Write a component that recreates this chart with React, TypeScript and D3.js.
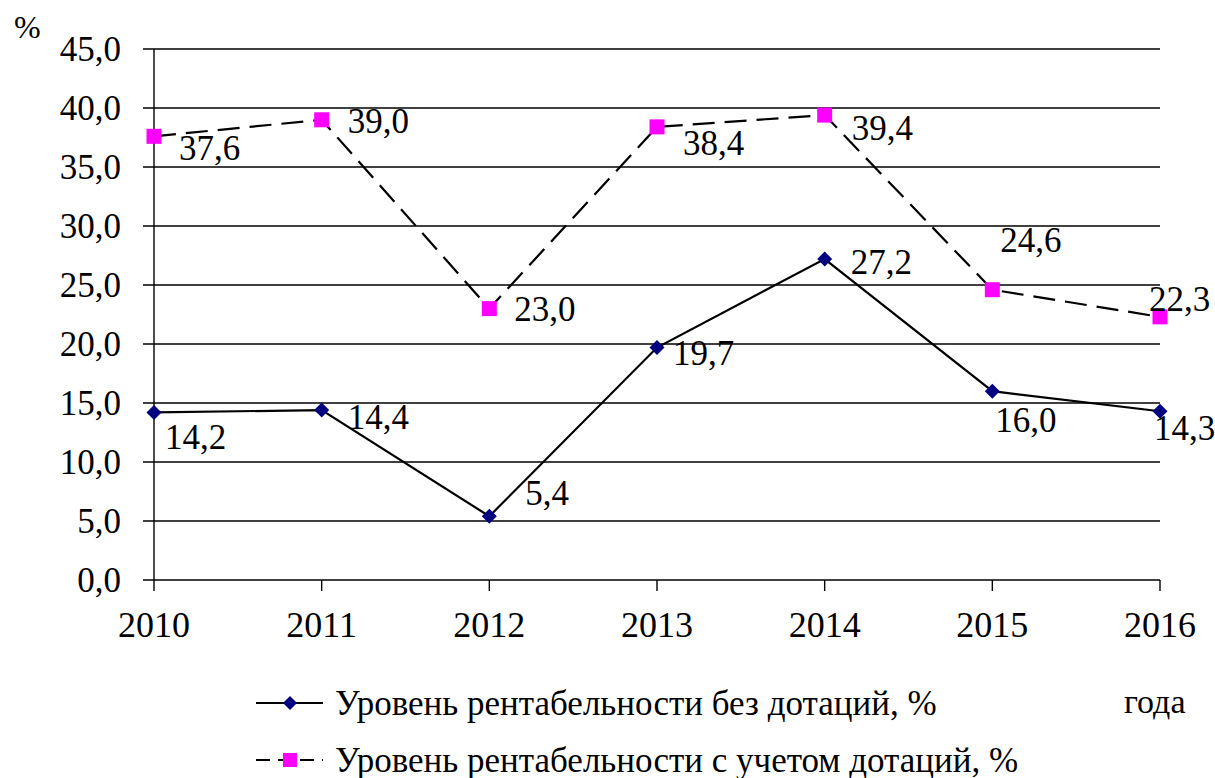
import React, { useEffect, useRef } from "react";
import * as d3 from "d3";

const years = ["2010", "2011", "2012", "2013", "2014", "2015", "2016"];
const withoutSubsidies = [14.2, 14.4, 5.4, 19.7, 27.2, 16.0, 14.3];
const withSubsidies = [37.6, 39.0, 23.0, 38.4, 39.4, 24.6, 22.3];
const yTicks = [0, 5, 10, 15, 20, 25, 30, 35, 40, 45];
const seriesNames = [
  "Уровень рентабельности без дотаций, %",
  "Уровень рентабельности с учетом дотаций, %",
];
// label offsets (dx from point, dy baseline from point)
const labelOffsets1 = [[11, 37], [26, 19], [36, -11], [16, 17], [26, 15], [3, 41], [-6, 29]];
const labelOffsets2 = [[25, 24], [26, 13], [25, 12], [26, 28], [27, 25], [8, -38], [-11, -6]];

const W = 1215, H = 778;
const left = 154, right = 1160, top = 49, bottom = 580;
const FAMILY = ["Liberation", "Serif"].join(" ");
const FONT = `"${FAMILY}", "Tinos", "Times New Roman"`;

function T(p: any) {
  return <text fill="#000" className="serifText" style={{ fontFamily: FONT }} {...p} />;
}

export default function App() {
  const ref = useRef<SVGSVGElement>(null);
  useEffect(() => {
    if (!ref.current) return;
    d3.select(ref.current)
      .selectAll<SVGTextElement, unknown>("text")
      .each(function () {
        this.style.setProperty("font-family", FONT, "important");
      });
  }, []);

  const x = d3.scalePoint<string>().domain(years).range([left, right]);
  const y = d3.scaleLinear().domain([0, 45]).range([bottom, top]);
  const fmt = (v: number) => v.toFixed(1).replace(".", ",");
  const line = d3.line<number>().x((_, i) => x(years[i])!).y((v) => y(v));

  return (
    <svg ref={ref} width={W} height={H} style={{ position: "absolute", left: 0, top: 0, background: "#fff" }}>
      <style>{`.serifText { font-family: ${FONT} !important; }`}</style>
      <rect width={W} height={H} fill="#fff" />
      {yTicks.map((t) => (
        <g key={t}>
          <line x1={143} x2={right} y1={y(t)} y2={y(t)} stroke="#000" strokeWidth={1.4} />
          <T x={121} y={y(t) + 12} textAnchor="end" fontSize={35}>{fmt(t)}</T>
        </g>
      ))}
      <line x1={left} x2={left} y1={top} y2={bottom} stroke="#000" strokeWidth={1.4} />
      {years.map((yr) => (
        <g key={yr}>
          <line x1={x(yr)} x2={x(yr)} y1={bottom} y2={591} stroke="#000" strokeWidth={1.4} />
          <T x={x(yr)} y={637} textAnchor="middle" fontSize={36}>{yr}</T>
        </g>
      ))}
      <T x={14} y={38} fontSize={32}>%</T>
      <path d={line(withoutSubsidies) || ""} fill="none" stroke="#000" strokeWidth={2.2} />
      <path d={line(withSubsidies) || ""} fill="none" stroke="#000" strokeWidth={2.2} strokeDasharray="22,10" />
      {withoutSubsidies.map((v, i) => {
        const cx = x(years[i])!, cy = y(v);
        return (
          <g key={"a" + i}>
            <path d={`M${cx},${cy - 7.5}L${cx + 7.5},${cy}L${cx},${cy + 7.5}L${cx - 7.5},${cy}Z`} fill="#000080" />
            <T x={cx + labelOffsets1[i][0]} y={cy + labelOffsets1[i][1]} fontSize={35}>{fmt(v)}</T>
          </g>
        );
      })}
      {withSubsidies.map((v, i) => {
        const cx = x(years[i])!, cy = y(v);
        return (
          <g key={"b" + i}>
            <rect x={cx - 7.5} y={cy - 7.5} width={15} height={15} fill="#ff00ff" />
            <T x={cx + labelOffsets2[i][0]} y={cy + labelOffsets2[i][1]} fontSize={35}>{fmt(v)}</T>
          </g>
        );
      })}
      {/* legend */}
      <line x1={256} x2={323} y1={703} y2={703} stroke="#000" strokeWidth={2.2} />
      <path d="M290,696L297,703L290,710L283,703Z" fill="#000080" />
      <T x={335} y={715} fontSize={35}>{seriesNames[0]}</T>
      <line x1={256} x2={323} y1={760} y2={760} stroke="#000" strokeWidth={2.2} strokeDasharray="14,8" />
      <rect x={283} y={753} width={14} height={14} fill="#ff00ff" />
      <T x={335} y={772} fontSize={35}>{seriesNames[1]}</T>
      <T x={1124} y={713} fontSize={34}>года</T>
    </svg>
  );
}
